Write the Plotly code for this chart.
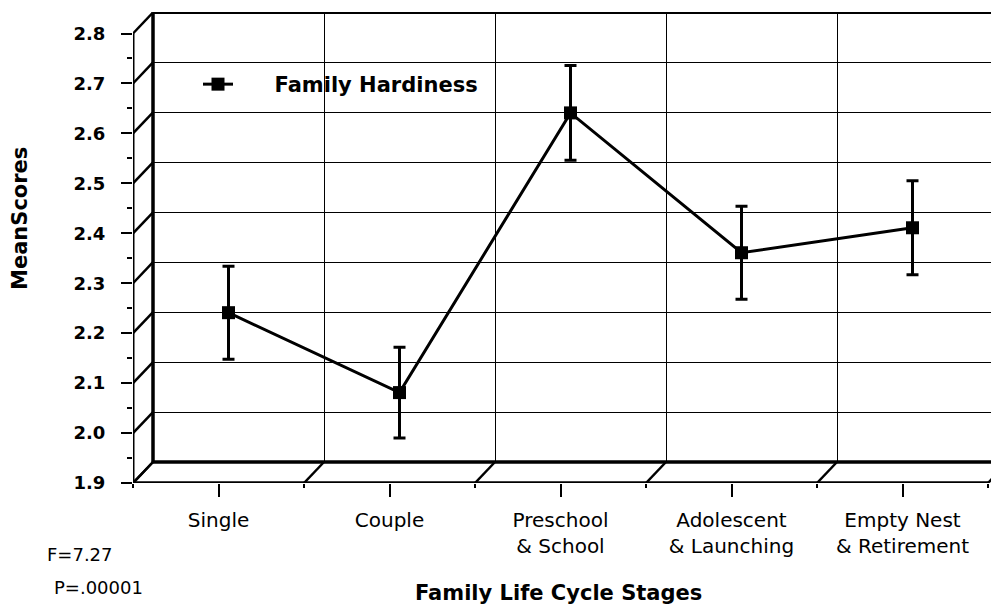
import plotly.graph_objects as go

# ---------------- data ----------------
stages = ["Single", "Couple", "Preschool<br>& School", "Adolescent<br>& Launching", "Empty Nest<br>& Retirement"]
mean_scores = [2.22, 2.06, 2.62, 2.34, 2.39]
error_half = [0.093, 0.091, 0.095, 0.093, 0.094]
y_ticks = [1.9, 2.0, 2.1, 2.2, 2.3, 2.4, 2.5, 2.6, 2.7, 2.8]
series_name = "Family Hardiness"
x_title = "Family Life Cycle Stages"
y_title = "MeanScores"
stats_f = "F=7.27"
stats_p = "P=.00001"

# ---------------- geometry (page pixels) ----------------
PAGE_W, PAGE_H = 999, 606
BODY = 8                      # default body margin of the html page
PLOT_LEFT, PLOT_TOP, PLOT_RIGHT, PLOT_BOTTOM = 133, 12, 999, 483
W, H = PAGE_W - BODY, PAGE_H - BODY
ML = PLOT_LEFT - BODY
MT = PLOT_TOP - BODY
MR = (W + BODY) - PLOT_RIGHT
MB = (H + BODY) - PLOT_BOTTOM
PW, PH = PLOT_RIGHT - PLOT_LEFT, PLOT_BOTTOM - PLOT_TOP
PX_PER_CAT = 171.0
PX_PER_UNIT = 449.5 / 0.9
DEPTH_X, DEPTH_Y = 20.0, 21.0
Y0 = y_ticks[0]
YTOP = y_ticks[-1]
n = len(stages)
bounds = [i - 0.5 for i in range(n + 1)]


def plane(frac):
    ox, oy = DEPTH_X * frac, DEPTH_Y * frac
    xd = [ox / PW, 1]
    xr = [-0.5, -0.5 + (PW - ox) / PX_PER_CAT]
    yd = [oy / PH, 1]
    yr = [Y0, Y0 + (PH - oy) / PX_PER_UNIT]
    return xd, xr, yd, yr


FONT = "DejaVu Sans, Arial, sans-serif"
fig = go.Figure()

# back wall (subplot x/y) -- only gridlines
bxd, bxr, byd, byr = plane(1.0)
fig.add_trace(go.Scatter(x=[], y=[], xaxis="x", yaxis="y", showlegend=False, hoverinfo="skip"))
# mid-depth plane for the data series (x2/y2)
mxd, mxr, myd, myr = plane(0.5)
fig.add_trace(go.Scatter(
    x=list(range(n)), y=mean_scores, xaxis="x2", yaxis="y2",
    name="\u00a0\u00a0\u00a0\u00a0\u00a0" + series_name,
    mode="lines+markers",
    line=dict(color="black", width=3),
    marker=dict(symbol="square", size=13, color="black"),
    error_y=dict(type="data", array=error_half, visible=True, color="black", thickness=3, width=6),
    cliponaxis=False,
))
# front plane with the value/category axes (x3/y3)
fxd, fxr, fyd, fyr = plane(0.0)
fig.add_trace(go.Scatter(x=[], y=[], xaxis="x3", yaxis="y3", showlegend=False, hoverinfo="skip"))

fig.update_layout(
    xaxis=dict(domain=bxd, range=bxr, tickvals=bounds, showticklabels=False, ticks="",
               showgrid=True, gridcolor="black", gridwidth=1, zeroline=False, showline=False, anchor="y"),
    yaxis=dict(domain=byd, range=byr, tickvals=y_ticks, showticklabels=False, ticks="",
               showgrid=True, gridcolor="black", gridwidth=1, zeroline=False, showline=False, anchor="x"),
    xaxis2=dict(domain=mxd, range=mxr, visible=False, anchor="y2"),
    yaxis2=dict(domain=myd, range=myr, visible=False, anchor="x2"),
    xaxis3=dict(domain=fxd, range=fxr, tickvals=list(range(n)), ticktext=stages,
                ticks="outside", ticklen=13, tickwidth=2, tickcolor="black",
                showgrid=False, zeroline=False, showline=False, anchor="y3",
                ticklabelstandoff=6,
                tickfont=dict(family=FONT, size=20, color="black"),
                minor=dict(tickvals=bounds, ticks="outside", ticklen=4, tickwidth=2, tickcolor="black", showgrid=False)),
    yaxis3=dict(domain=fyd, range=fyr, tickvals=y_ticks, ticktext=[f"{v:.1f}" for v in y_ticks],
                ticks="outside", ticklen=11, tickwidth=2, tickcolor="black",
                showgrid=False, zeroline=False, showline=False, anchor="x3",
                ticklabelstandoff=12,
                tickfont=dict(family=FONT, size=18, color="black", weight="bold"),
                minor=dict(tickvals=[(a + b) / 2 for a, b in zip(y_ticks[:-1], y_ticks[1:])],
                           ticks="outside", ticklen=5, tickwidth=1.5, tickcolor="black", showgrid=False)),
    width=W, height=H,
    margin=dict(l=ML, r=MR, t=MT, b=MB, pad=0),
    paper_bgcolor="white", plot_bgcolor="rgba(0,0,0,0)",
    showlegend=True,
    legend=dict(x=(198 - PLOT_LEFT) / PW, y=(PLOT_BOTTOM - 64) / PH, xanchor="left", yanchor="top",
                bgcolor="rgba(0,0,0,0)", borderwidth=0, itemwidth=30,
                font=dict(family=FONT, size=21, color="black", weight="bold")),
    font=dict(family=FONT, color="black"),
)

# ----- 3-D frame drawn in front-plane axis units -----
dxu = DEPTH_X / PX_PER_CAT
dyu = DEPTH_Y / PX_PER_UNIT
xright = fxr[1]
shapes = []


def seg(x0, y0, x1, y1, w):
    shapes.append(dict(type="line", xref="x3", yref="y3", x0=x0, y0=y0, x1=x1, y1=y1,
                       line=dict(color="black", width=w), layer="above"))


# side wall: slanted lines at each value tick
for v in y_ticks:
    seg(-0.5, v, -0.5 + dxu, v + dyu, 2.5)
# floor: slanted lines at each category boundary
for b in bounds:
    seg(b, Y0, b + dxu, Y0 + dyu, 2.5)
# front value axis line and front category axis line
seg(-0.5, Y0, -0.5, YTOP, 3)
seg(-0.5, Y0, bounds[-1], Y0, 3.5)
# back wall edges
seg(-0.5 + dxu, Y0 + dyu, -0.5 + dxu, YTOP + dyu, 3.5)
seg(-0.5 + dxu, Y0 + dyu, xright, Y0 + dyu, 3.5)
seg(-0.5 + dxu, YTOP + dyu, xright, YTOP + dyu, 3)
fig.update_layout(shapes=shapes)


def px_to_paper(px, py):
    return (px - PLOT_LEFT) / PW, (PLOT_BOTTOM - py) / PH


ann = []
ax, ay = px_to_paper(20, 219)
ann.append(dict(text=y_title, x=ax, y=ay, xref="paper", yref="paper", showarrow=False, textangle=-90,
                font=dict(family=FONT, size=21, color="black", weight="bold"), xanchor="center", yanchor="middle"))
ax, ay = px_to_paper(558, 593)
ann.append(dict(text=x_title, x=ax, y=ay, xref="paper", yref="paper", showarrow=False,
                font=dict(family=FONT, size=21, color="black", weight="bold"), xanchor="center", yanchor="middle"))
ax, ay = px_to_paper(45, 554)
ann.append(dict(text=stats_f, x=ax, y=ay, xref="paper", yref="paper", showarrow=False,
                font=dict(family=FONT, size=18, color="black"), xanchor="left", yanchor="middle"))
ax, ay = px_to_paper(52, 587)
ann.append(dict(text=stats_p, x=ax, y=ay, xref="paper", yref="paper", showarrow=False,
                font=dict(family=FONT, size=18, color="black"), xanchor="left", yanchor="middle"))
fig.update_layout(annotations=ann)

fig.write_html("out.html")
